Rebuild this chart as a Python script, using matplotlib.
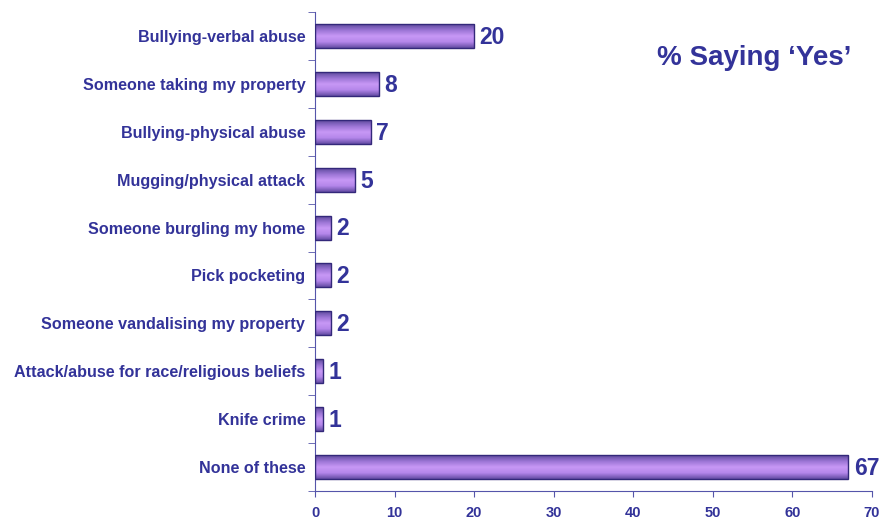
import numpy as np
import matplotlib.pyplot as plt
from matplotlib.colors import LinearSegmentedColormap

categories = [
    "Bullying-verbal abuse",
    "Someone taking my property",
    "Bullying-physical abuse",
    "Mugging/physical attack",
    "Someone burgling my home",
    "Pick pocketing",
    "Someone vandalising my property",
    "Attack/abuse for race/religious beliefs",
    "Knife crime",
    "None of these",
]
values = [20, 8, 7, 5, 2, 2, 2, 1, 1, 67]

navy = "#333399"
plt.rcParams['font.family'] = ['Liberation Sans', 'DejaVu Sans']
plt.rcParams['font.weight'] = 'bold'

fig = plt.figure(figsize=(8.82, 5.2), dpi=100)
ax = fig.add_axes([315 / 882, 29 / 520, (872 - 315) / 882, (491 - 12) / 520])

# vertical shading inside each bar: dark edges, light middle
shade = LinearSegmentedColormap.from_list(
    "shade", ["#5e4a9e", "#9a74d4", "#c898f6", "#b486ea", "#644ca4"])
grad = np.linspace(0, 1, 64).reshape(-1, 1)

h = 0.5
ys = np.arange(len(categories))
for y, v in zip(ys, values):
    ax.imshow(grad, cmap=shade, aspect='auto', origin='upper',
              extent=(0, v, y + h / 2, y - h / 2), zorder=2, interpolation='bilinear')
    ax.barh(y, v, height=h, facecolor='none', edgecolor="#33287a", linewidth=1.0, zorder=3)
    ax.text(v + 0.7, y + 0.03, str(v), va='center', ha='left', color=navy,
            fontsize=16.5, fontweight='bold')

ax.set_xlim(0, 70)
ax.set_ylim(len(categories) - 0.5, -0.5)
ax.set_xticks(range(0, 71, 10))
ax.set_yticks(ys)
ax.set_yticklabels(categories)
ax.set_yticks(np.arange(-0.5, len(categories)), minor=True)
ax.tick_params(axis='y', which='major', length=0, pad=7, labelsize=11.6, labelcolor=navy)
ax.tick_params(axis='y', which='minor', length=5, color="#5555aa", direction='out')
ax.tick_params(axis='x', length=4, color="#5555aa", direction='out', pad=7,
               labelsize=10.5, labelcolor=navy)
for lab in ax.get_xticklabels() + ax.get_yticklabels():
    lab.set_fontweight('bold')

for side in ['top', 'right']:
    ax.spines[side].set_visible(False)
for side in ['left', 'bottom']:
    ax.spines[side].set_color("#5555aa")

fig.text(754 / 882, 1 - 58 / 520, "% Saying \u2018Yes\u2019", ha='center', va='center',
         color=navy, fontsize=20, fontweight='bold')

fig.savefig("out.png", dpi=100)
